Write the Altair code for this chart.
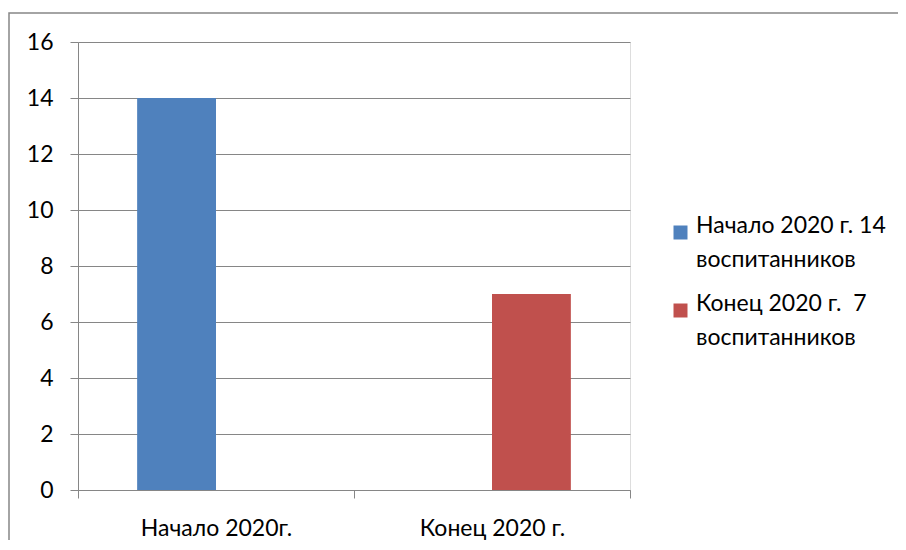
import altair as alt
import pandas as pd

categories = ["Начало 2020г.", "Конец 2020 г."]
series = ["Начало 2020 г. 14|воспитанников", "Конец 2020 г.\u00a0 7|воспитанников"]
values = [14, 7]
colors = ["#4F81BD", "#C0504D"]
y_ticks = [0, 2, 4, 6, 8, 10, 12, 14, 16]

df = pd.DataFrame({"category": categories, "series": series, "value": values})

FONT = "Lato"
GRAY = "#868686"

legend = alt.Legend(title=None, orient="none", legendX=591, legendY=179,
                    symbolType="square", symbolSize=196,
                    symbolStrokeWidth=0, symbolOpacity=1,
                    labelExpr="split(datum.label, '|')",
                    labelFontSize=23, labelFont=FONT, labelColor="black",
                    labelBaseline="alphabetic", labelLimit=400,
                    rowPadding=20, padding=0, labelOffset=4)

bars = alt.Chart(df).mark_bar().encode(
    x=alt.X("category:N", sort=categories, title=None,
            scale=alt.Scale(paddingInner=0, paddingOuter=0),
            axis=alt.Axis(labelAngle=0, tickBand="extent", domainColor=GRAY,
                          tickColor=GRAY, tickSize=8, labelPadding=19,
                          labelFontSize=23, labelColor="black", labelFont=FONT,
                          grid=False)),
    xOffset=alt.XOffset("series:N", sort=series,
                        scale=alt.Scale(domain=series, paddingInner=0, paddingOuter=0.75)),
    y=alt.Y("value:Q", title=None,
            scale=alt.Scale(domain=[0, 16], nice=False),
            axis=alt.Axis(values=y_ticks, domainColor=GRAY, tickColor=GRAY,
                          gridColor=GRAY, gridOpacity=1, tickSize=8, labelPadding=17,
                          labelFontSize=23, labelColor="black", labelFont=FONT)),
    color=alt.Color("series:N", sort=series,
                    scale=alt.Scale(domain=series, range=colors),
                    legend=legend),
)

frame = alt.Chart(pd.DataFrame({"a": [0]})).mark_rect(
    fill=None, stroke=GRAY, strokeWidth=1.5
).encode(
    x=alt.value(-69), x2=alt.value(860), y=alt.value(-29), y2=alt.value(540)
)

chart = alt.layer(frame, bars).properties(
    width=552, height=448,
    autosize=alt.AutoSizeParams(type="none"),
    padding={"left": 70, "top": 34, "right": 268, "bottom": 50},
).configure_view(stroke=None).configure(
    background="white", style={"guide-label": {"lineHeight": 34}}
)

chart.save("out.html", embed_options={"renderer": "svg", "actions": False})
